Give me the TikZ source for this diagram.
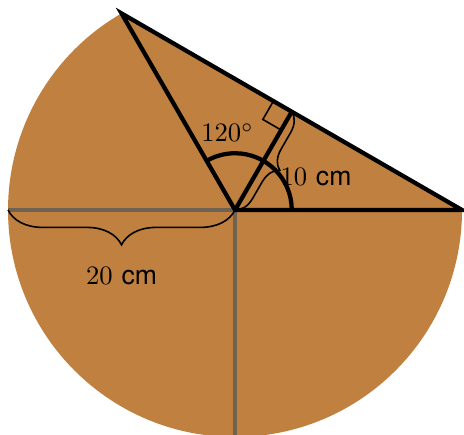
\documentclass[tikz,border=0pt]{standalone}
\usepackage{fontspec}
\newfontfamily\unitfont{TeX Gyre Heros}
\usetikzlibrary{decorations.pathreplacing,calc}
\definecolor{diskfill}{rgb}{0.75,0.5,0.25}
\definecolor{radline}{RGB}{112,98,80}
\begin{document}
\begin{tikzpicture}[
  thickline/.style={line width=1.6pt, line join=miter},
  grayline/.style={line width=1.6pt, draw=radline},
  thinline/.style={line width=0.6pt},
  lbl/.style={inner sep=0pt}
]
\useasboundingbox (-3.106,-2.973) rectangle (3.026,2.775);
\coordinate (O) at (0,0);
\coordinate (A) at (0:3);
\coordinate (B) at (120:3);
\coordinate (F) at (60:1.5);
\coordinate (L) at (180:3);
\coordinate (D) at (270:3);
\coordinate (E) at (0:0.75);
\fill[diskfill] (A) arc[start angle=0, end angle=-240, radius=3] -- cycle;
\draw[grayline] (L) -- (O);
\draw[grayline] (O) -- (D);
\draw[thinline, decorate, decoration={brace, amplitude=0.46cm}] (O) -- (L);
\draw[thinline, decorate, decoration={brace, amplitude=0.25cm}] (F) -- (O);
\draw[thickline] (O) -- (A) -- (B) -- cycle;
\draw[thickline] (O) -- (F);
\draw[thickline] (E) arc[start angle=0, end angle=120, radius=0.75];
\draw[thinline] ($(F)+(150:0.28)$) -- ++(240:0.28) -- ++(330:0.28);
\node[lbl] (l120) at (-0.1,1.02) {$120^\circ$};
\node[lbl] (l10) at (1.07,0.43) {$10$ {\unitfont cm}};
\node[lbl] (l20) at (-1.5,-0.87) {$20$ {\unitfont cm}};
\end{tikzpicture}
\end{document}
